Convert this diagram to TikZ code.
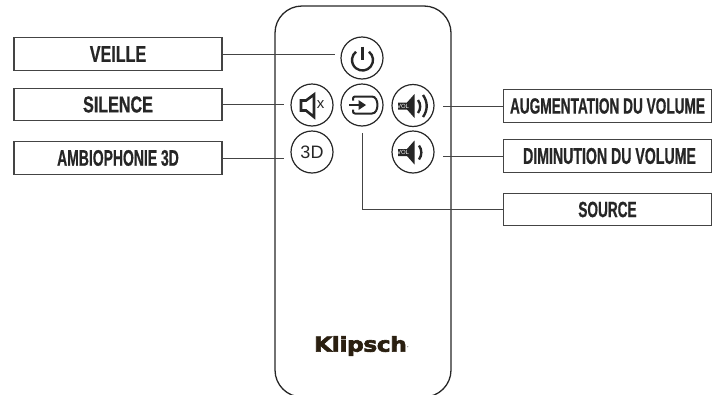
\documentclass[tikz,border=0pt]{standalone}
\usepackage{fontspec}
\setmainfont{Liberation Sans}
\newfontfamily\labelfont[FakeStretch=0.62,FakeBold=0.6]{Liberation Sans Bold}
\newfontfamily\widelabelfont[FakeStretch=0.70,FakeBold=0.6]{Liberation Sans Bold}
\newfontfamily\logofont[FakeStretch=1.14,FakeBold=3,LetterSpace=-2]{DejaVu Sans Bold}
\definecolor{inkgrey}{HTML}{262626}
\definecolor{boxgrey}{HTML}{444444}
\definecolor{logobrown}{HTML}{2A1F10}

\begin{document}
\begin{tikzpicture}[x=1pt, y=-1pt, thick]
        % Define styles
        \tikzset{
            labelbox/.style={rectangle, draw=boxgrey, line width=1.2pt, fill=white, minimum width=208pt, minimum height=32.5pt, text=inkgrey, inner sep=0pt},
            button/.style={circle, draw=inkgrey, line width=1.2pt, minimum size=42pt, inner sep=0pt},
            lead/.style={draw=boxgrey, line width=1pt},
            icon/.style={draw=inkgrey, line width=2pt}
        }
        \useasboundingbox (0,0) rectangle (720,394);

        % Remote body
        \begin{scope}
            \clip (0,0) rectangle (720,394);
            \draw [line width=1.3pt, draw=inkgrey, rounded corners=27pt] (275,6) rectangle (451,397);
        \end{scope}
        \node [font=\logofont\fontsize{20.5}{20}\selectfont, text=logobrown, inner sep=0pt] (logo) at (360.5,346) {Klipsch};
        \fill [gray] (407.7,346.7) circle (0.6);

        % Place buttons
        \node [button] (power) at (362,58) {};
        \node [button] (mute) at (312,105) {};
        \node [button] (source) at (362,105) {};
        \node [button] (volup) at (413,105.5) {};
        \node [button, font=\fontsize{18}{18}\selectfont, text=inkgrey] (threed) at (312,152) {3D};
        \node [button] (voldown) at (413,152) {};

        % Place label boxes
        \node [labelbox, font=\widelabelfont\fontsize{23}{23}\selectfont] (veille) at (118,54) {VEILLE};
        \node [labelbox, font=\widelabelfont\fontsize{23}{23}\selectfont] (silence) at (118,104.5) {SILENCE};
        \node [labelbox, font=\labelfont\fontsize{22.5}{23}\selectfont] (ambio) at (118,158) {AMBIOPHONIE 3D};
        \node [labelbox, font=\labelfont\fontsize{22}{23}\selectfont] (augment) at (607.5,106) {AUGMENTATION DU VOLUME};
        \node [labelbox, font=\labelfont\fontsize{22.8}{23}\selectfont] (diminution) at (607.5,156) {\hspace{4pt}DIMINUTION DU VOLUME};
        \node [labelbox, font=\labelfont\fontsize{22}{23}\selectfont] (sourcebox) at (607.5,209.5) {SOURCE};

        % Free ends of the leads
        \coordinate (veille_end) at (335,54);
        \coordinate (silence_end) at (284,104.5);
        \coordinate (ambio_end) at (284,158);
        \coordinate (augment_end) at (443,106);
        \coordinate (diminution_end) at (443,156);
        \coordinate (source_end) at (362.5,133);

        % Draw leads
        \draw [lead] (veille) -- (veille_end);
        \draw [lead] (silence) -- (silence_end);
        \draw [lead] (ambio) -- (ambio_end);
        \draw [lead] (augment) -- (augment_end);
        \draw [lead] (diminution) -- (diminution_end);
        \draw [lead] (sourcebox) -| (source_end);

        % Power icon
        \draw [icon, line width=2.4pt] ([shift={(-52:10.5)}]362.5,60) arc (-52:232:10.5);
        \draw [icon, line width=2.4pt] (362.5,46.5) -- (362.5,60);

        % Mute icon
        \draw [icon, line width=2.6pt, line join=miter] (301,100.5) -- (306,100.5) -- (314,94.5) -- (314,117) -- (306,110.5) -- (301,110.5) -- cycle;
        \node [font=\fontsize{15}{15}\selectfont, text=inkgrey, inner sep=0pt] (mutex) at (320.5,105) {x};

        % Source icon
        \draw [icon, rounded corners=2pt] (353,100.5) -- (353,96.5) -- (370,96.5) to[out=0, in=0, looseness=1.4] (370,113.5) -- (353,113.5) -- (353,109.5);
        \draw [icon] (349,105) -- (362,105);
        \fill [inkgrey] (366,105) -- (358.5,100) -- (358.5,110) -- cycle;

        % Volume icons
        \fill [inkgrey] (398,102.5) -- (407,102.5) -- (414.5,94) -- (414.5,118) -- (407,109.5) -- (398,109.5) -- cycle;
        \node [font=\fontsize{6}{6}\selectfont, text=white, inner sep=0pt] (volupvol) at (403,106) {VOL};
        \draw [icon, line width=2.4pt] (418,100) to[bend left=35] (418,113);
        \draw [icon, line width=2.4pt] (423,95) to[bend left=35] (423,117);

        \fill [inkgrey] (398,149) -- (407,149) -- (414.5,140.5) -- (414.5,164.5) -- (407,156) -- (398,156) -- cycle;
        \node [font=\fontsize{6}{6}\selectfont, text=white, inner sep=0pt] (voldownvol) at (403,152.5) {VOL};
        \draw [icon, line width=2.4pt] (419,145.5) to[bend left=35] (419,159.5);

\end{tikzpicture}
\end{document}
